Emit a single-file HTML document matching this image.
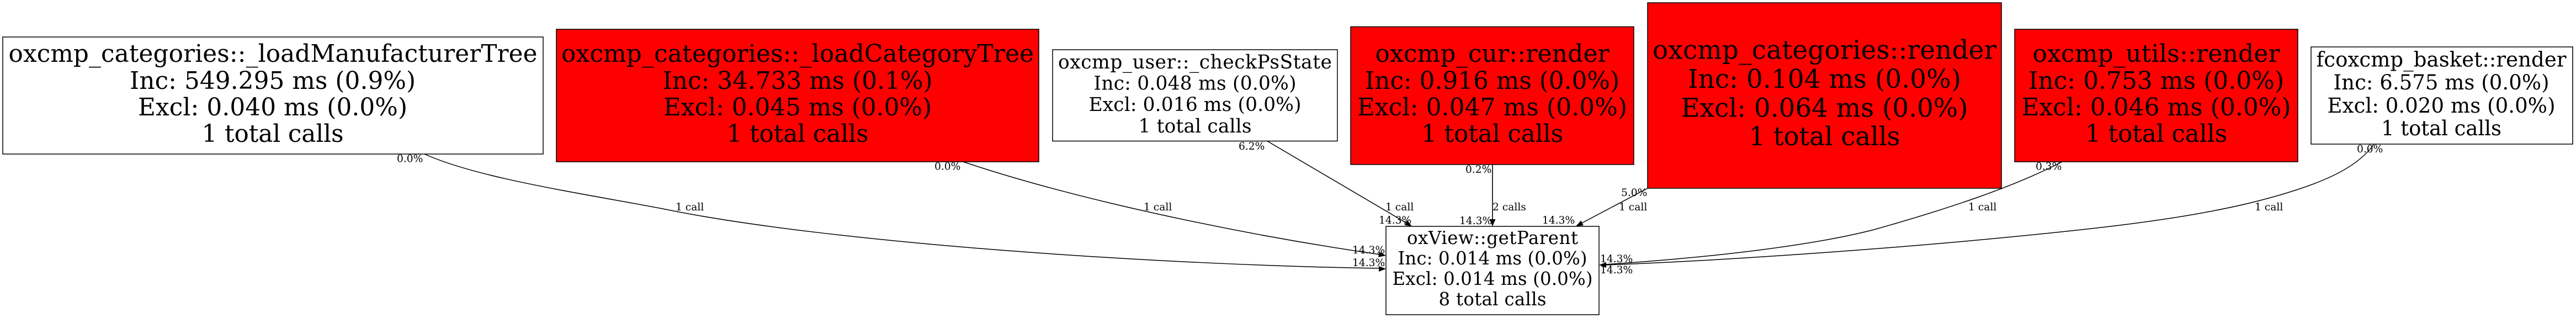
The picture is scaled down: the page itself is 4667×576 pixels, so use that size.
<!DOCTYPE html>
<html><head><meta charset="utf-8"><style>
html,body{margin:0;padding:0;background:#fff;width:4667px;height:576px;overflow:hidden}
svg{display:block}
text{font-family:"DejaVu Serif",serif;fill:#000;text-anchor:middle}
.l{font-size:18.67px;text-anchor:start}
rect{stroke:#000;stroke-width:1.5}
path.e{fill:none;stroke:#000;stroke-width:1.5}
</style></head><body>
<svg width="4667" height="576" viewBox="0 0 4667 576" xmlns="http://www.w3.org/2000/svg">
<rect x="0" y="0" width="4667" height="576" style="fill:#fff;stroke:none"/>
<path class="e" d="M769,279 C865,322 1035,347 1200,378 C1500,440 2100,480 2500,486"/>
<path class="e" d="M1745,293 C1950,362 2250,425 2500,461"/>
<path class="e" d="M2295,255 L2550,405"/>
<path class="e" d="M2704,298 L2704,400" style="stroke:#333;stroke-width:2"/>
<path class="e" d="M2985,341 L2864,405"/>
<path class="e" d="M3738,292 C3650,338 3530,378 3395,416 C3290,443 3120,465 2908,479"/>
<path class="e" d="M4301,261 C4270,305 4205,335 4087,365 C3960,397 3800,415 3560,437 C3360,455 3100,473 2908,480"/>
<polygon points="2511,487 2498,482 2498,492"/>
<polygon points="2511,463 2498.9,456 2497.1,465.7"/>
<polygon points="2558,410 2549.5,399 2544.5,407.7"/>
<polygon points="2704,410 2698.5,397 2709.5,397"/>
<polygon points="2855,410 2868.8,408.3 2864.2,399.5"/>
<polygon points="2897,480 2910,475 2910,485"/>

<rect x="5" y="67" width="979" height="212" fill="#fff"/>
<g font-size="43.7"><text x="494.5" y="112" textLength="958">oxcmp_categories::_loadManufacturerTree</text><text x="494" y="161" textLength="518">Inc: 549.295 ms (0.9%)</text><text x="494" y="209" textLength="488">Excl: 0.040 ms (0.0%)</text><text x="494" y="257" textLength="257">1 total calls</text></g>

<rect x="1008" y="53" width="874" height="240" fill="#f00"/>
<g font-size="43.7"><text x="1445" y="112" textLength="856">oxcmp_categories::_loadCategoryTree</text><text x="1445" y="161" textLength="489">Inc: 34.733 ms (0.1%)</text><text x="1445" y="209" textLength="486">Excl: 0.045 ms (0.0%)</text><text x="1445" y="257" textLength="257">1 total calls</text></g>

<rect x="1907" y="90" width="516" height="165.500" fill="#fff"/>
<g font-size="34.4"><text x="2165" y="124" textLength="496">oxcmp_user::_checkPsState</text><text x="2165" y="162.500" textLength="367">Inc: 0.048 ms (0.0%)</text><text x="2165" y="201" textLength="385">Excl: 0.016 ms (0.0%)</text><text x="2165" y="240" textLength="205">1 total calls</text></g>

<rect x="2447" y="48.500" width="513" height="249.500" fill="#f00"/>
<g font-size="43.7"><text x="2703.500" y="112" textLength="424">oxcmp_cur::render</text><text x="2703.500" y="161" textLength="461">Inc: 0.916 ms (0.0%)</text><text x="2703.500" y="209" textLength="489">Excl: 0.047 ms (0.0%)</text><text x="2703.500" y="257" textLength="257">1 total calls</text></g>

<rect x="2985" y="5" width="641" height="336" fill="#f00"/>
<g font-size="46.8"><text x="3305.500" y="106.500" textLength="623">oxcmp_categories::render</text><text x="3305.500" y="159" textLength="495">Inc: 0.104 ms (0.0%)</text><text x="3305.500" y="211.500" textLength="520">Excl: 0.064 ms (0.0%)</text><text x="3305.500" y="263" textLength="274">1 total calls</text></g>

<rect x="3650" y="53" width="513" height="240" fill="#f00"/>
<g font-size="43.7"><text x="3906.500" y="112" textLength="448">oxcmp_utils::render</text><text x="3906.500" y="161" textLength="463">Inc: 0.753 ms (0.0%)</text><text x="3906.500" y="209" textLength="488">Excl: 0.046 ms (0.0%)</text><text x="3906.500" y="257" textLength="257">1 total calls</text></g>

<rect x="4187" y="85" width="474" height="176" fill="#fff"/>
<g font-size="37"><text x="4423" y="120.500" textLength="453">fcoxcmp_basket::render</text><text x="4423" y="162" textLength="391">Inc: 6.575 ms (0.0%)</text><text x="4423" y="204" textLength="413">Excl: 0.020 ms (0.0%)</text><text x="4423" y="245" textLength="218">1 total calls</text></g>

<rect x="2511" y="410" width="386" height="160" fill="#fff"/>
<g font-size="32.4"><text x="2704" y="442" textLength="310">oxView::getParent</text><text x="2704" y="479" textLength="343">Inc: 0.014 ms (0.0%)</text><text x="2704" y="516" textLength="363">Excl: 0.014 ms (0.0%)</text><text x="2704" y="553" textLength="195">8 total calls</text></g>

<text class="l" x="719" y="293.500">0.0%</text>
<text class="l" x="1224" y="381">1 call</text>
<text class="l" x="1693" y="307.500">0.0%</text>
<text class="l" x="2072" y="381">1 call</text>
<text class="l" x="2244" y="271">6.2%</text>
<text class="l" x="2510" y="381">1 call</text>
<text class="l" x="2498" y="405">14.3%</text>
<text class="l" x="2704" y="381">2 calls</text>
<text class="l" x="2644" y="406">14.3%</text>
<text class="l" x="2794" y="405">14.3%</text>
<text class="l" x="2450" y="459">14.3%</text>
<text class="l" x="2450" y="482">14.3%</text>
<text class="l" x="2655" y="313">0.2%</text>
<text class="l" x="2937" y="355">5.0%</text>
<text class="l" x="2933" y="381">1 call</text>
<text class="l" x="3566" y="381">1 call</text>
<text class="l" x="3688" y="307.500">0.3%</text>
<text class="l" x="4270" y="276">0.0%</text>
<text class="l" x="4085" y="381">1 call</text>
<text class="l" x="2899" y="475">14.3%</text>
<text class="l" x="2899" y="495">14.3%</text>
</svg>
</body></html>
